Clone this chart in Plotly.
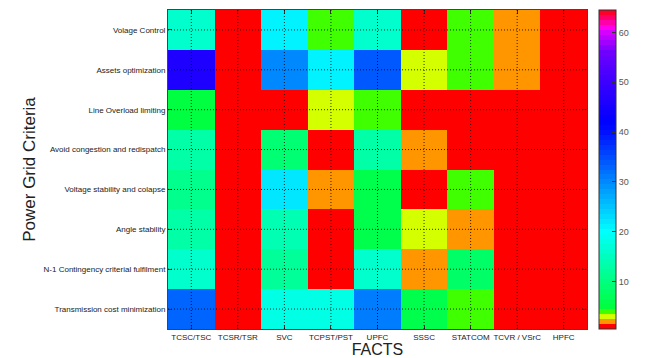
import colorsys
import plotly.graph_objects as go

facts = ["TCSC/TSC", "TCSR/TSR", "SVC", "TCPST/PST", "UPFC", "SSSC",
         "STATCOM", "TCVR / VSrC", "HPFC"]
criteria = ["Volage Control", "Assets optimization", "Line Overload limiting",
            "Avoid congestion and redispatch", "Voltage stability and colapse",
            "Angle stability", "N-1 Contingency criterial fulfilment",
            "Transmission cost minimization"]

volage_control = [16, 1, 21, 4, 16, 1, 4, 2, 1]
assets_optimization = [46, 1, 30, 21, 34, 3, 4, 2, 1]
line_overload = [5, 1, 1, 3, 4, 1, 1, 1, 1]
avoid_congestion = [13, 1, 9, 1, 13, 2, 1, 1, 1]
voltage_stability = [11, 1, 22, 2, 6, 1, 4, 1, 1]
angle_stability = [13, 1, 14, 1, 6, 3, 2, 1, 1]
n1_contingency = [16, 1, 12, 1, 16, 2, 8, 1, 1]
transmission_cost = [33, 1, 18, 18, 31, 6, 4, 1, 1]

z = [volage_control, assets_optimization, line_overload, avoid_congestion,
     voltage_stability, angle_stability, n1_contingency, transmission_cost]

cbar_ticks = [10, 20, 30, 40, 50, 60]

# 64-entry colormap (MATLAB-like): discrete low entries then an hsv sweep
low_entries = {1: (255, 0, 0), 2: (255, 150, 0), 3: (212, 255, 0), 4: (64, 255, 0)}
hue_pts = [(5, 135), (20, 180), (40, 236), (50, 254), (56, 266), (60, 290),
           (62, 320), (64, 350)]


def hue_of(k):
    for (a, ha), (b, hb) in zip(hue_pts[:-1], hue_pts[1:]):
        if a <= k <= b:
            return ha + (hb - ha) * (k - a) / (b - a)
    return hue_pts[-1][1]


def entry(k):
    if k in low_entries:
        return low_entries[k]
    r, g, b = colorsys.hsv_to_rgb((hue_of(k) % 360) / 360.0, 1, 1)
    return (round(r * 255), round(g * 255), round(b * 255))


colorscale = []
for k in range(1, 65):
    c = "rgb(%d,%d,%d)" % entry(k)
    colorscale.append([(k - 1) / 64, c])
    colorscale.append([k / 64, c])

fig = go.Figure(go.Heatmap(
    z=z, x=facts, y=criteria, zmin=0.5, zmax=64.5,
    colorscale=colorscale, xgap=0, ygap=0,
    colorbar=dict(
        x=1.0286, xanchor="left", y=0.5, yanchor="middle", len=1.0,
        lenmode="fraction", thickness=17, thicknessmode="pixels",
        outlinecolor="#333", outlinewidth=1,
        tickvals=cbar_ticks, ticks="inside", ticklen=4, tickcolor="#333",
        tickfont=dict(family="Liberation Sans, Arial", size=9, color="#555"),
        xpad=0, ypad=0,
    ),
))

grid_line = dict(color="rgba(0,0,0,0.8)", width=1, dash="1px,2px")
shapes = []
for i, _ in enumerate(facts):
    shapes.append(dict(type="line", xref="x", yref="paper", x0=i, x1=i,
                       y0=0, y1=1, line=grid_line, layer="above"))
for j, _ in enumerate(criteria):
    shapes.append(dict(type="line", xref="paper", yref="y", x0=0, x1=1,
                       y0=j, y1=j, line=grid_line, layer="above"))

axis_font = dict(family="Liberation Sans, Arial", size=8, color="#222")
# page body adds an 8px offset, so the figure is sized/margined to compensate
fig.update_layout(
    width=639, height=350,
    margin=dict(l=160, r=60, t=2, b=29, autoexpand=False),
    paper_bgcolor="white", plot_bgcolor="white",
    shapes=shapes,
    xaxis=dict(
        type="category", tickfont=axis_font, ticks="inside", ticklen=4,
        tickcolor="#333", showline=True, linecolor="#444", linewidth=1,
        mirror="ticks", layer="above traces", showgrid=False, zeroline=False,
        automargin=False,
        title=dict(text="FACTS", standoff=6,
                   font=dict(family="Liberation Sans, Arial", size=16, color="#222")),
    ),
    yaxis=dict(
        type="category", tickfont=axis_font, ticks="inside", ticklen=4,
        tickcolor="#333", showline=True, linecolor="#444", linewidth=1,
        mirror="ticks", layer="above traces", showgrid=False, zeroline=False,
        autorange="reversed", automargin=False,
        title=dict(text="Power Grid Criteria", standoff=3,
                   font=dict(family="Liberation Sans, Arial", size=17, color="#222")),
    ),
)

fig.write_html("out.html")
